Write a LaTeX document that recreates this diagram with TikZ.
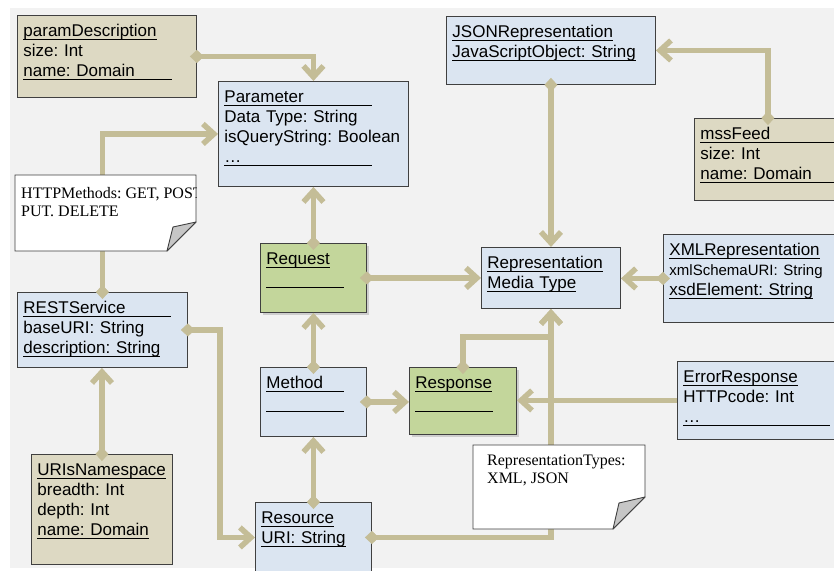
\documentclass[tikz,border=0pt]{standalone}
\usepackage{fontspec}
\setmainfont{Liberation Sans}
\newfontfamily\notefont{Liberation Serif}
\usetikzlibrary{arrows.meta,shadows}
\frenchspacing

\definecolor{bgcol}{HTML}{F2F2F2}
\definecolor{bluefill}{HTML}{DBE5F1}
\definecolor{tanfill}{HTML}{DDD9C3}
\definecolor{greenfill}{HTML}{C3D69B}
\definecolor{linktan}{HTML}{C4BD97}
\definecolor{edgegray}{HTML}{404040}
\definecolor{foldgray}{HTML}{C6C6C6}

% underlined text: fixed width or natural width
\newcommand{\ulw}[2]{\leavevmode\rlap{\rule[-2.6pt]{#1}{0.8pt}}#2}
\newcommand{\uln}[1]{\setbox0\hbox{#1}\ulw{\wd0}{#1}}

\tikzset{
  cls/.style={draw=edgegray,line width=0.9pt,anchor=north west,inner xsep=6pt,
    inner ysep=7.5pt,text height=14pt,align=left,font=\fontsize{17}{20}\selectfont},
  bluecls/.style={cls,fill=bluefill},
  tancls/.style={cls,fill=tanfill},
  greencls/.style={cls,fill=greenfill,
    drop shadow={shadow xshift=3pt,shadow yshift=-3pt,opacity=.25,fill=black!60}},
  link/.style={draw=linktan,line width=5.5pt,
    arrows={-Straight Barb[length=11pt,width=20pt]}},
  dlink/.style={link,
    arrows={Diamond[length=14pt,width=13pt,line width=0.5pt]-Straight Barb[length=11pt,width=20pt]}},
  paper/.style={fill=white,draw=edgegray,line width=0.9pt},
  fold/.style={fill=foldgray,draw=edgegray,line width=0.9pt,line join=round},
  note/.style={anchor=north west,inner sep=0pt,align=left,
    font=\notefont\fontsize{16}{18}\selectfont},
}

\begin{document}
\begin{tikzpicture}[x=1pt,y=-1pt]
\useasboundingbox (0,0) rectangle (834,570);
\fill[bgcol] (10,8) rectangle (834,568);

% classes
\node[tancls,text width=167pt,text depth=53pt] (pdesc) at (17,15)
  {\uln{paramDescription}\\size: Int\\\ulw{149pt}{name: Domain}};
\node[bluecls,text width=178pt,text depth=76pt] (param) at (218,81)
  {\ulw{148pt}{Parameter}\\Data Type: String\\isQueryString: Boolean\\\ulw{148pt}{\ldots}};
\node[bluecls,text width=158pt,text depth=46pt] (rest) at (17,292)
  {\ulw{148pt}{RESTService}\\baseURI: String\\\uln{description: String}};
\node[tancls,text width=129pt,text depth=81pt] (uris) at (31,454)
  {\uln{URIsNamespace}\\breadth: Int\\depth: Int\\\uln{name: Domain}};
\node[greencls,text width=94pt,text depth=40pt] (request) at (260,243)
  {\uln{Request}\\\ulw{78pt}{}};
\node[bluecls,text width=94pt,text depth=40pt] (method) at (260,367)
  {\ulw{78pt}{Method}\\\ulw{78pt}{}};
\node[greencls,text width=95pt,text depth=38pt] (response) at (409,367)
  {\uln{Response}\\\ulw{78pt}{}};
\node[bluecls,text width=104pt,text depth=41pt] (resource) at (255,502)
  {\uln{Resource}\\\uln{URI: String}};
\node[bluecls,text width=127pt,text depth=32pt] (media) at (481,247)
  {\uln{Representation}\\\uln{Media Type}};
\node[bluecls,text width=197pt,text depth=39pt] (json) at (446,16)
  {\uln{JSONRepresentation}\\\uln{JavaScriptObject: String}};
\node[tancls,text width=135pt,text depth=53pt] (mss) at (694,118)
  {\ulw{134pt}{mssFeed}\\size: Int\\\ulw{134pt}{name: Domain}};
\node[bluecls,text width=168pt,text depth=59pt] (xml) at (663,234)
  {\uln{XMLRepresentation}\\{\fontsize{15}{20}\selectfont xmlSchemaURI: String}\\\uln{xsdElement: String}};
\node[bluecls,text width=158pt,text depth=49pt] (err) at (677,361)
  {\uln{ErrorResponse}\\HTTPcode: Int\\\ulw{147pt}{\ldots}};

% links
\draw[dlink] ([xshift=-7pt]pdesc.east) -| (param.north);
\draw[dlink] ([yshift=-7pt]rest.north) |- (param.west);
\draw[dlink] ([yshift=-7pt]request.north) -- (param.south);
\draw[dlink] ([yshift=-7pt]method.north) -- (request.south);
\draw[dlink] ([yshift=-7pt]resource.north) -- (method.south);
\draw[dlink] ([xshift=-7pt]request.east) -- (media.west);
\draw[dlink] ([xshift=-7pt]method.east) -- (method.east -| response.west);
\draw[dlink] ([yshift=7pt]json.south) -- (media.north);
\draw[dlink] ([yshift=-7pt]mss.north) |- (json.east);
\draw[dlink] ([xshift=7pt]xml.west) -- (xml.west -| media.east);
\draw[dlink] ([yshift=-7pt]response.north) |- ([yshift=-28pt]media.south) -- (media.south);
\draw[link] (err.west) -- (err.west -| response.east);
\draw[dlink] ([xshift=-7pt]resource.east) -| (media.south);
\draw[dlink] ([xshift=-7pt]rest.east) -| ([xshift=-35pt]resource.west) -- (resource.west);
\draw[dlink] ([yshift=-7pt]uris.north) -- (uris.north |- rest.south);

% notes
\coordinate (httpcorner) at (15,175);
\filldraw[paper] (httpcorner) -- ++(181,0) -- ++(0,47) -- ++(-29,29) -- ++(-152,0) -- cycle;
\filldraw[fold] (196,222) -- ++(-23,5) -- ++(-6,24) -- cycle;
\begin{scope}
  \clip (httpcorner) rectangle ++(181,76);
  \node[note] (httpnote) at ([shift={(6,12)}]httpcorner) {HTTPMethods: GET, POST\\PUT. DELETE};
\end{scope}
\coordinate (typescorner) at (473,445);
\filldraw[paper] (typescorner) -- ++(172,0) -- ++(0,52) -- ++(-32,32) -- ++(-140,0) -- cycle;
\filldraw[fold] (645,497) -- ++(-26,6) -- ++(-6,26) -- cycle;
\node[note] (typesnote) at ([shift={(14,10)}]typescorner) {RepresentationTypes:\\XML, JSON};
\end{tikzpicture}
\end{document}
